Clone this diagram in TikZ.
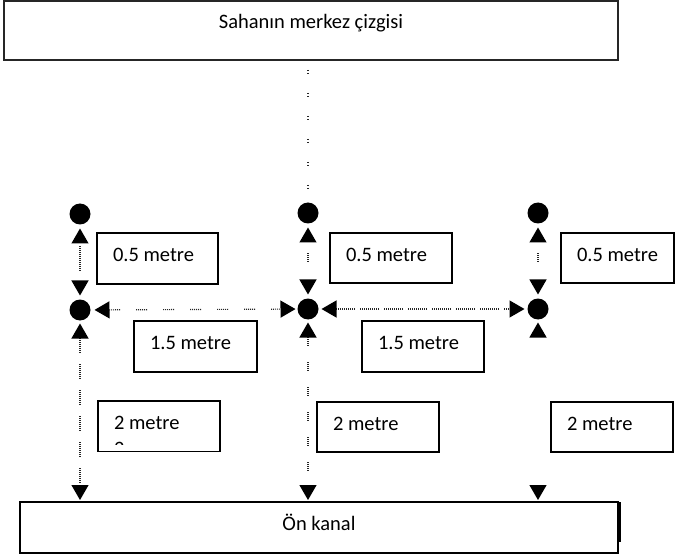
\documentclass[tikz,border=0pt]{standalone}
\usepackage{fontspec}
\setmainfont{Carlito}
\usetikzlibrary{arrows.meta,calc}
\newcommand\lbltxt[2]{\makebox[#1pt][l]{\hspace{16pt}#2}}
\tikzset{
  Tri/.tip={Triangle[width=17pt,length=15pt,color=black,fill=black]},
  every node/.style={font=\fontsize{20.5}{24.5}\selectfont},
  bigbox/.style={draw=black!85, line width=2pt, anchor=north west, inner sep=0pt, outer sep=0pt, text height=28pt},
  lbox/.style={draw=black, line width=1.2pt, anchor=north west, inner sep=0pt, outer sep=0pt, text height=28.5pt},
  dotn/.style={circle, fill=black, minimum size=21pt, inner sep=0pt, outer sep=0pt},
  dimline/.style={draw=black!85, line width=1.2pt},
  dimarr/.style={dimline, {Tri}-{Tri}},
  sparse/.style={dash pattern=on 1pt off 2pt on 1pt off 19pt, dash phase=17pt},
  shortdots/.style={dash pattern=on 0pt off 3pt on 1pt off 1pt on 1pt off 1pt on 1pt off 1pt on 1pt off 1pt on 1pt off 1pt on 1pt off 1pt on 1pt off 1pt on 1pt off 1pt on 1pt off 1pt on 1pt off 1pt on 1pt off 1pt on 1pt off 1pt on 1pt off 30pt},
  colondots/.style={dash pattern=on 0pt off 11pt on 1pt off 1pt on 1pt off 1pt on 1pt off 1pt on 1pt off 1pt on 1pt off 30pt},
  grpA/.style={dash pattern=on 1pt off 1pt on 1pt off 1pt on 1pt off 1pt on 1pt off 1pt on 1pt off 1pt on 1pt off 1pt on 1pt off 1pt on 1pt off 11pt},
  grpB/.style={dash pattern=on 1pt off 1pt on 1pt off 1pt on 1pt off 1pt on 1pt off 1pt on 1pt off 16pt},
  grpH/.style={dash pattern=on 1pt off 1pt on 1pt off 1pt on 1pt off 1pt on 1pt off 1pt on 1pt off 1pt on 1pt off 16pt},
  grpK/.style={dash pattern=on 1pt off 1pt on 1pt off 1pt on 1pt off 1pt on 1pt off 1pt on 1pt off 1pt on 1pt off 1pt on 1pt off 1pt on 1pt off 1pt on 1pt off 1pt on 1pt off 5pt},
}
\begin{document}
\begin{tikzpicture}[x=1pt,y=-1pt]
\useasboundingbox (0,0) rectangle (675,556);

% main boxes
\node[bigbox, minimum width=614pt, text depth=31pt] (top) at (4,1) {Sahanın merkez çizgisi};
\node[bigbox, draw=black, line width=1.6pt, minimum width=598pt, text depth=23pt] (bot) at (20,502) {Ön kanal};
\draw[line width=2.2pt] ([xshift=1.8pt]bot.north east) -- ++(0,40);

% label boxes
\node[lbox, text depth=22.5pt] (b05a) at (97,233) {\lbltxt{121}{0.5 metre}};
\node[lbox, text depth=21.5pt] (b05b) at (330,233) {\lbltxt{122}{0.5 metre}};
\node[lbox, text depth=21.5pt] (b05c) at (561,233) {\lbltxt{113}{0.5 metre}};
\node[lbox, text depth=22.5pt] (b15a) at (134,321) {\lbltxt{123}{1.5 metre}};
\node[lbox, text depth=22.5pt] (b15b) at (362,321) {\lbltxt{122}{1.5 metre}};
\node[lbox, text depth=22pt] (b2a) at (98,401) {\lbltxt{122}{2 metre}};
\node[lbox, text depth=21.5pt] (b2b) at (317,402) {\lbltxt{122}{2 metre}};
\node[lbox, text depth=21.5pt] (b2c) at (551,402) {\lbltxt{122}{2 metre}};
\begin{scope}
  \clip (99,402) rectangle (219,444.5);
  \node[anchor=base west, inner sep=0pt] (b2afrag) at (114,455) {2};
\end{scope}

% points
\node[dotn] (t1) at (80,214) {};
\node[dotn] (t2) at (308,213) {};
\node[dotn] (t3) at (538,213) {};
\node[dotn] (m1) at (80,310) {};
\node[dotn] (m2) at (308,309) {};
\node[dotn] (m3) at (538,309) {};
\coordinate (c0) at (308,64);

% centre line from top box
\draw[dimline, sparse] (c0) -- (t2);

% 0.5 m
\draw[dimarr, shortdots, shorten <=4pt, shorten >=4pt] (t1) -- (m1);
\draw[dimarr, colondots, shorten <=4pt, shorten >=4pt] (t2) -- (m2);
\draw[dimarr, colondots, shorten <=4pt, shorten >=4pt] (t3) -- (m3);

% 1.5 m
\draw[dimarr, grpH, shorten <=4pt, shorten >=2pt] (m1) -- (m2);
\draw[dimarr, grpK, shorten <=3pt, shorten >=3pt] (m2) -- (m3);

% 2 m
\draw[dimarr, grpA, shorten <=3pt, shorten >=2pt] (m1) -- (m1 |- bot.north);
\draw[dimarr, grpB, shorten <=3pt, shorten >=2pt] (m2) -- (m2 |- bot.north);
\draw[dimarr, dash pattern=on 0pt off 600pt, shorten <=3pt, shorten >=2pt] (m3) -- (m3 |- bot.north);
\end{tikzpicture}
\end{document}
